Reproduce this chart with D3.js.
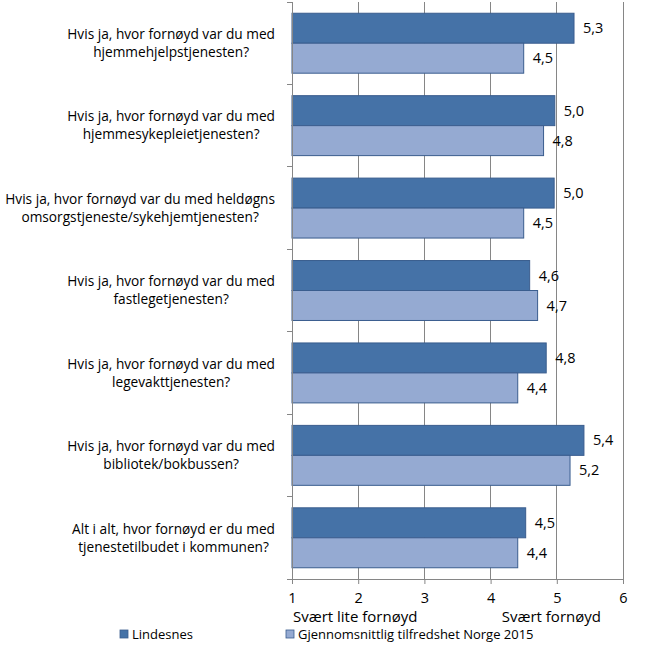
<!DOCTYPE html>
<html>
<head>
<meta charset="utf-8">
<script src="https://cdn.jsdelivr.net/npm/d3@7"></script>
<style>
  html, body { margin: 0; padding: 0; background: #fff; }
  svg { display: block; }
  text { font-family: "Open Sans", "Noto Sans", sans-serif; fill: #000; }
</style>
</head>
<body>
<svg id="chart" width="648" height="657"></svg>
<script>
const categories = [
  ["Hvis ja, hvor fornøyd var du med", "hjemmehjelpstjenesten?"],
  ["Hvis ja, hvor fornøyd var du med", "hjemmesykepleietjenesten?"],
  ["Hvis ja, hvor fornøyd var du med heldøgns", "omsorgstjeneste/sykehjemtjenesten?"],
  ["Hvis ja, hvor fornøyd var du med", "fastlegetjenesten?"],
  ["Hvis ja, hvor fornøyd var du med", "legevakttjenesten?"],
  ["Hvis ja, hvor fornøyd var du med", "bibliotek/bokbussen?"],
  ["Alt i alt, hvor fornøyd er du med", "tjenestetilbudet i kommunen?"]
];
const seriesNames = ["Lindesnes", "Gjennomsnittlig tilfredshet Norge 2015"];
const lindesnes = [5.26, 4.97, 4.96, 4.59, 4.84, 5.41, 4.53];
const norge = [4.50, 4.80, 4.50, 4.71, 4.41, 5.20, 4.41];
const xTicks = [1, 2, 3, 4, 5, 6];
const scaleLabels = ["Svært lite fornøyd", "Svært fornøyd"];
const colors = ["#4572a7", "#95aad2"];

(function () {
const svg = d3.select("#chart");
const mLeft = 292, mRight = 623, mTop = 2, mBottom = 579;

const x = d3.scaleLinear().domain([1, 6]).range([mLeft, mRight]);
const y = d3.scaleBand().domain(d3.range(categories.length)).range([mTop, mBottom]).paddingInner(0).paddingOuter(0);
const inner = d3.scaleBand().domain([0, 1]).range([0, y.bandwidth()]).paddingInner(0).paddingOuter(0.375);

// gridlines
svg.append("g").selectAll("line").data(xTicks.slice(1)).join("line")
  .attr("x1", d => x(d)).attr("x2", d => x(d))
  .attr("y1", mTop).attr("y2", mBottom)
  .attr("stroke", "#868686").attr("stroke-width", 1).attr("shape-rendering", "crispEdges");

// bars
const series = [lindesnes, norge];
const g = svg.append("g");
series.forEach((vals, si) => {
  g.selectAll(".bar" + si).data(vals).join("rect")
    .attr("class", "bar" + si)
    .attr("x", x(1))
    .attr("y", (d, i) => y(i) + inner(si))
    .attr("width", d => x(d) - x(1))
    .attr("height", inner.bandwidth())
    .attr("fill", colors[si])
    .attr("stroke", "#3a5d8e").attr("stroke-width", 1);
  g.selectAll(".lab" + si).data(vals).join("text")
    .attr("class", "lab" + si)
    .attr("x", d => x(d) + 9)
    .attr("y", (d, i) => y(i) + inner(si) + inner.bandwidth() / 2)
    .attr("dy", "0.35em")
    .attr("font-size", 14.5)
    .text(d => d.toFixed(1).replace(".", ","));
});

// axes
const xAxis = d3.axisBottom(x).tickValues(xTicks).tickSize(5).tickPadding(9).tickFormat(d => d);
const gx = svg.append("g").attr("transform", `translate(0,${mBottom})`).call(xAxis);
gx.select(".domain").attr("stroke", "#868686");
gx.selectAll(".tick line").attr("stroke", "#868686");
gx.selectAll(".tick text").attr("font-size", 14.5).attr("font-family", "Open Sans, sans-serif").attr("fill", "#000");

const yTickVals = d3.range(categories.length + 1).map(i => mTop + i * y.step());
svg.append("line").attr("x1", mLeft).attr("x2", mLeft).attr("y1", mTop).attr("y2", mBottom)
  .attr("stroke", "#868686").attr("shape-rendering", "crispEdges");
svg.append("g").selectAll("line").data(yTickVals).join("line")
  .attr("x1", mLeft - 5).attr("x2", mLeft).attr("y1", d => d).attr("y2", d => d)
  .attr("stroke", "#868686").attr("shape-rendering", "crispEdges");

// category labels
const catG = svg.append("g");
categories.forEach((lines, i) => {
  const cy = y(i) + y.bandwidth() / 2;
  const grp = catG.append("g");
  const texts = lines.map((l, k) => grp.append("text")
    .attr("font-size", 13.7)
    .attr("text-anchor", "middle")
    .attr("y", cy + (k - (lines.length - 1) / 2) * 18)
    .attr("dy", "0.35em")
    .text(l));
  const w = d3.max(texts, t => t.node().getComputedTextLength());
  texts.forEach(t => t.attr("x", 275 - w / 2));
});

// scale labels
svg.append("text").attr("x", x(1) + 1).attr("y", 617).attr("dy", "0.35em").attr("font-size", 15).text(scaleLabels[0]);
svg.append("text").attr("x", x(5) - 55).attr("y", 617).attr("dy", "0.35em").attr("font-size", 15).text(scaleLabels[1]);

// legend
const legendX = [120, 286];
seriesNames.forEach((n, i) => {
  svg.append("rect").attr("x", legendX[i]).attr("y", 630).attr("width", 8).attr("height", 8)
    .attr("fill", colors[i]).attr("stroke", "#3a5d8e").attr("stroke-width", 0.8);
  svg.append("text").attr("x", legendX[i] + 12).attr("y", 634).attr("dy", "0.35em")
    .attr("font-size", 13).text(n);
});
})();
</script>
</body>
</html>
